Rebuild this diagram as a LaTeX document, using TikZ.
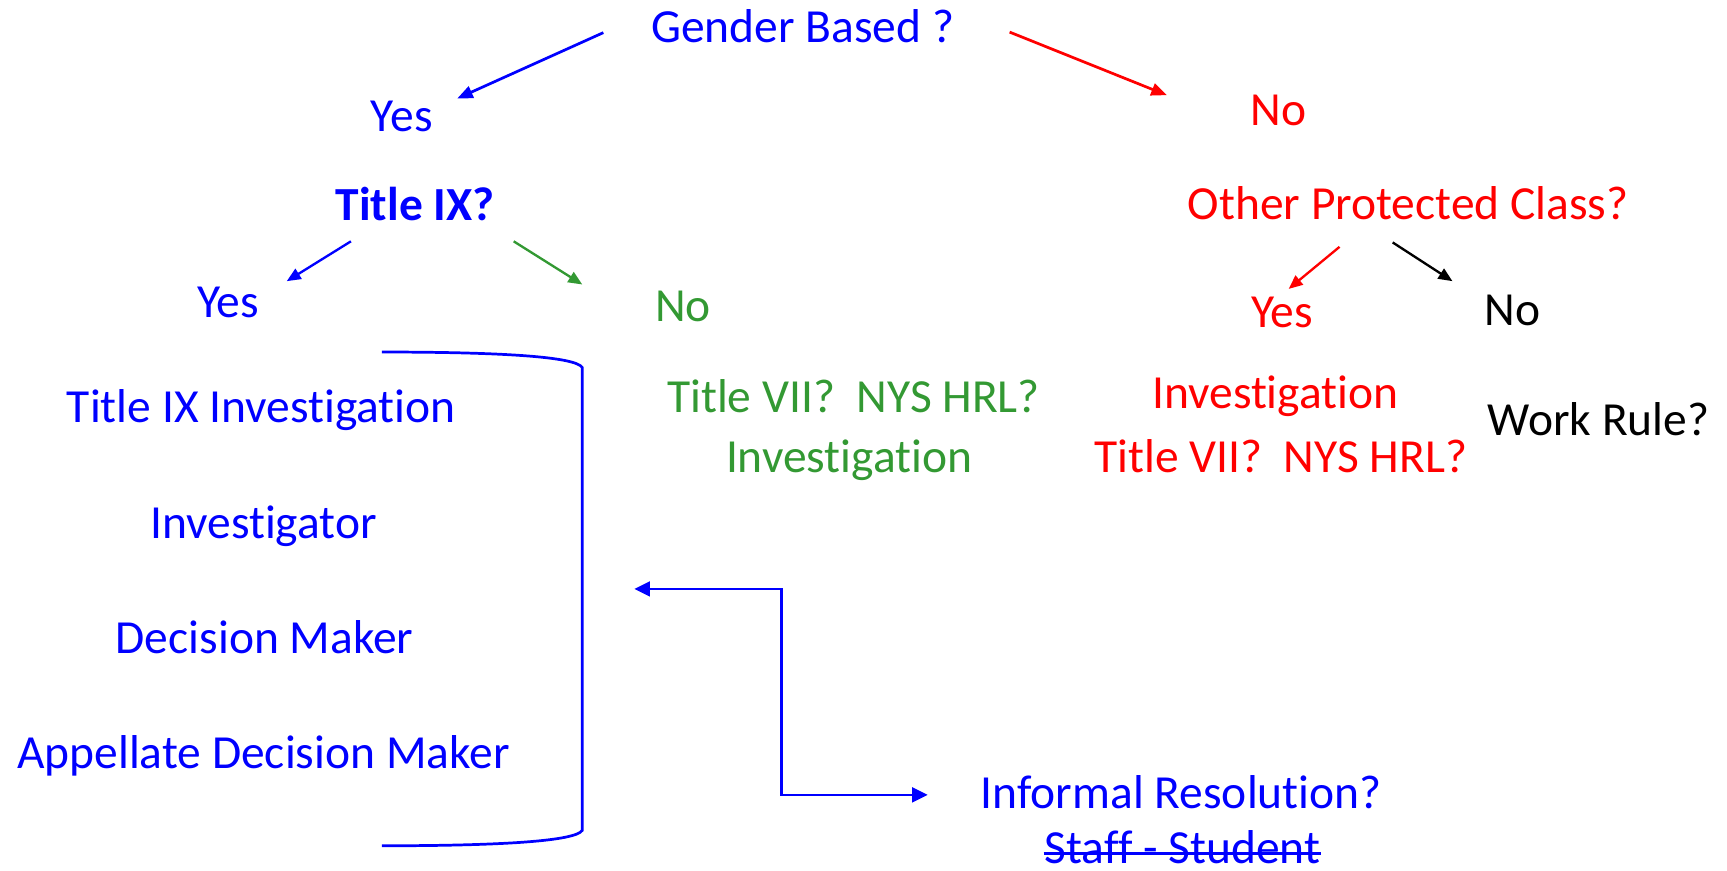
\documentclass[tikz,border=0pt]{standalone}
\usepackage{fontspec}
\setmainfont[Ligatures={NoCommon,NoContextual}]{Carlito}
\usetikzlibrary{arrows.meta}
\definecolor{cblue}{RGB}{0,0,255}
\definecolor{cred}{RGB}{255,0,0}
\definecolor{cgreen}{RGB}{51,153,51}
\newcommand{\tIsep}{t\kern0pt i}
\begin{document}
\begin{tikzpicture}[x=0.01cm,y=-0.01cm,
  lbl/.style={anchor=base,inner sep=0pt,font=\fontsize{12.2}{14}\selectfont},
  boldlbl/.style={lbl,font=\fontsize{12.2}{14}\selectfont\bfseries},
  arr/.style={line width=0.7pt,-{Triangle[length=4pt,width=3.2pt]}},
  sarr/.style={line width=0.6pt,-{Triangle[length=3.6pt,width=3pt]}},
  dbl/.style={line width=0.65pt,{Triangle[length=4pt,width=3.8pt]}-{Triangle[length=4pt,width=3.8pt]}},
  brk/.style={line width=0.7pt}]
\useasboundingbox (0,0) rectangle (1560,786);
% nodes
\node[lbl,cblue] (gb) at (725,38) {Gender Based ?};
\node[lbl,cblue] (y1) at (363,119) {Yes};
\node[lbl,cred] (n1) at (1155,113) {No};
\node[boldlbl,cblue] (t9) at (375,199) {Title IX?};
\node[lbl,cred] (opc) at (1272,198) {Other Protected Class?};
\node[lbl,cblue] (y2) at (206,287) {Yes};
\node[lbl,cgreen] (n2) at (617,290) {No};
\node[lbl,cred] (y3) at (1158,296) {Yes};
\node[lbl] (n3) at (1366,294) {No};
\node[lbl,cblue] (tii) at (236,382) {Title IX Inves\tIsep ga\tIsep on};
\node[lbl,cblue] (inv) at (238,486) {Inves\tIsep gator};
\node[lbl,cblue] (dm) at (239,590) {Decision Maker};
\node[lbl,cblue] (adm) at (238,694) {Appellate Decision Maker};
\node[lbl,cgreen] (gq) at (771,373) {Title VII?~~NYS HRL?};
\node[lbl,cgreen] (gi) at (767,427) {Inves\tIsep ga\tIsep on};
\node[lbl,cred] (ri) at (1152,369) {Inves\tIsep ga\tIsep on};
\node[lbl,cred] (rq) at (1157,427) {Title VII?~~NYS HRL?};
\node[lbl] (wr) at (1444,393) {Work Rule?};
\node[lbl,cblue] (ir) at (1067,730) {Informal Resolu\tIsep on?};
\node[lbl,cblue] (ss) at (1068,780) {Staff - Student};
\draw[cblue,line width=0.75pt] ([yshift=2.6pt]ss.base west) -- ([yshift=2.6pt]ss.base east);
% arrow end points
\coordinate (gbL) at (545,29.5);
\coordinate (y1T) at (413,89);
\coordinate (gbR) at (912,29);
\coordinate (n1T) at (1054,86);
\coordinate (t9L) at (317,218);
\coordinate (y2T) at (259,254);
\coordinate (t9R) at (464,218);
\coordinate (n2T) at (526,257);
\coordinate (opcL) at (1210,223);
\coordinate (y3T) at (1164,261);
\coordinate (opcR) at (1258,219);
\coordinate (n3T) at (1312,254);
\draw[arr,cblue] (gbL) -- (y1T);
\draw[arr,cred] (gbR) -- (n1T);
\draw[sarr,cblue] (t9L) -- (y2T);
\draw[sarr,cgreen] (t9R) -- (n2T);
\draw[sarr,cred] (opcL) -- (y3T);
\draw[sarr,black] (opcR) -- (n3T);
% bracket
\coordinate (bt) at (345,318);
\coordinate (bb) at (345,764);
\draw[brk,cblue] (bt) .. controls (450,318) and (520,322) .. (526,332) -- (526,750) .. controls (520,760) and (450,764) .. (bb);
% elbow connector
\coordinate (ret) at (573,532);
\coordinate (irin) at (838,718);
\draw[dbl,cblue] (ret) -- (706,532) |- (irin);
\end{tikzpicture}
\end{document}
